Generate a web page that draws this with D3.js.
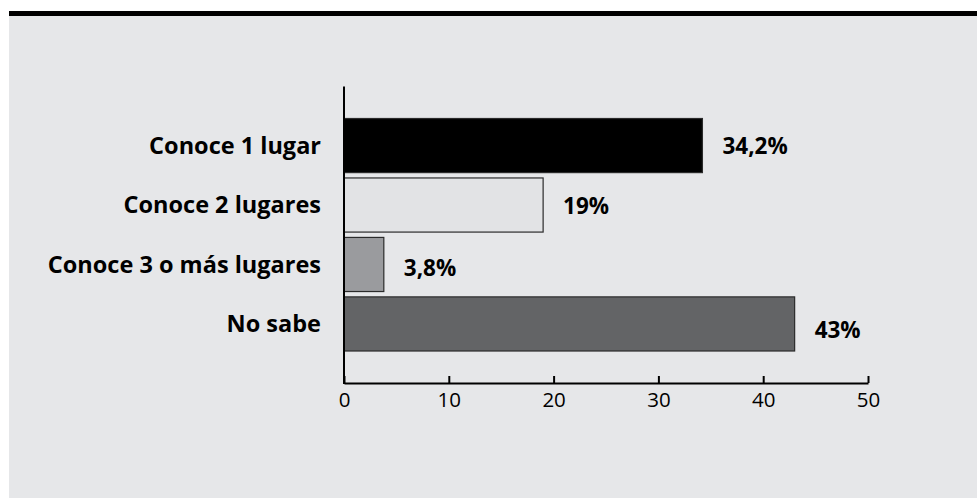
<!DOCTYPE html>
<html>
<head>
<meta charset="utf-8">
<script src="https://cdn.jsdelivr.net/npm/d3@7"></script>
<style>
  html, body { margin: 0; padding: 0; background: #ffffff; }
  svg { display: block; }
</style>
</head>
<body>
<script>
const categories = ["Conoce 1 lugar", "Conoce 2 lugares", "Conoce 3 o más lugares", "No sabe"];
const values = [34.2, 19, 3.8, 43];
const barColors = ["#000000", "#e2e3e5", "#9a9b9e", "#636466"];
const tickValues = [0, 10, 20, 30, 40, 50];

const W = 977, H = 498;
const fontFamily = "'Open Sans', 'Noto Sans', sans-serif";

const svg = d3.select("body").append("svg").attr("width", W).attr("height", H);

// panel background and top rule
svg.append("rect").attr("x", 9).attr("y", 16).attr("width", W - 9).attr("height", H - 16).attr("fill", "#e6e7e9");
svg.append("rect").attr("x", 9).attr("y", 11).attr("width", W - 9).attr("height", 5).attr("fill", "#000");

const x = d3.scaleLinear().domain([0, 50]).range([344, 868]);
const y = d3.scaleBand().domain(categories).range([118.5, 351]).paddingInner(0.09).paddingOuter(0);
const axisY = 383;

const data = categories.map((c, i) => ({ c, v: values[i], color: barColors[i] }));

// bars
svg.append("g").selectAll("rect").data(data).join("rect")
  .attr("x", x(0))
  .attr("y", d => y(d.c))
  .attr("width", d => x(d.v) - x(0))
  .attr("height", y.bandwidth())
  .attr("fill", d => d.color)
  .attr("stroke", "#2b2b2b")
  .attr("stroke-width", 1.2);

// value labels
const fmt = v => String(v).replace(".", ",") + "%";
svg.append("g").selectAll("text").data(data).join("text")
  .attr("x", d => x(d.v) + 20)
  .attr("y", (d, i) => y(d.c) + y.bandwidth() / 2 + [1, 1, 3.5, 6][i])
  .attr("dy", "0.35em")
  .attr("font-family", fontFamily)
  .attr("font-weight", "bold")
  .attr("font-size", 22.5)
  .attr("fill", "#000")
  .text(d => fmt(d.v));

// category labels
svg.append("g").selectAll("text").data(data).join("text")
  .attr("x", x(0) - 23)
  .attr("y", d => y(d.c) + y.bandwidth() / 2)
  .attr("dy", "0.35em")
  .attr("text-anchor", "end")
  .attr("font-family", fontFamily)
  .attr("font-weight", "bold")
  .attr("font-size", 23.5)
  .attr("fill", "#000")
  .text(d => d.c);

// y axis line
svg.append("line")
  .attr("x1", x(0)).attr("x2", x(0))
  .attr("y1", y.range()[0] - 32).attr("y2", axisY + 1)
  .attr("stroke", "#000").attr("stroke-width", 2);

// x axis
const xAxis = d3.axisBottom(x).tickValues(tickValues).tickSizeInner(-7).tickSizeOuter(0).tickPadding(9);
const gx = svg.append("g").attr("transform", `translate(0,${axisY})`).call(xAxis);
gx.select(".domain").attr("stroke", "#000").attr("stroke-width", 2);
gx.selectAll(".tick line").attr("stroke", "#000").attr("stroke-width", 2);
gx.selectAll(".tick text")
  .attr("font-family", fontFamily)
  .attr("font-size", 20.5)
  .attr("fill", "#000");
</script>
</body>
</html>
